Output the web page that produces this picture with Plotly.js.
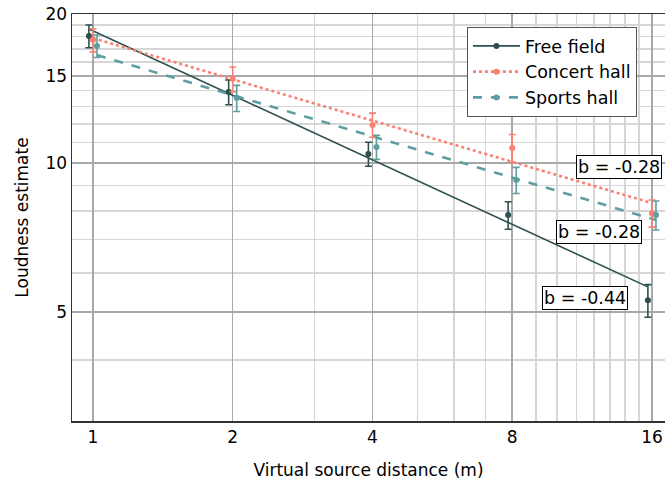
<!DOCTYPE html>
<html>
<head>
<meta charset="utf-8">
<script src="https://cdn.plot.ly/plotly-3.0.1.min.js"></script>
<style>html,body{margin:0;padding:0;background:#fff;}#chart{width:665px;height:483px;}</style>
</head>
<body>
<div id="chart"></div>
<script>
// ---- data ----
const distances = [1, 2, 4, 8, 16];
const seriesNames = ["Free field", "Concert hall", "Sports hall"];
const freeMean = [18.05, 13.91, 10.43, 7.85, 5.28];
const freeErr = [0.95, 0.80, 0.58, 0.50, 0.40];
const concertMean = [17.72, 14.78, 11.94, 10.72, 7.92];
const concertErr = [0.95, 0.85, 0.67, 0.70, 0.50];
const sportsMean = [17.24, 13.53, 10.77, 9.24, 7.85];
const sportsErr = [0.90, 0.82, 0.60, 0.56, 0.53];
const fitX = [1, 16];
const freeFit = [18.65, 5.62];
const concertFit = [17.88, 8.30];
const sportsFit = [16.52, 7.67];
const slopeLabels = ["b = -0.44", "b = -0.28", "b = -0.28"];
const xTicks = [1, 2, 4, 8, 16];
const yTicks = [5, 10, 15, 20];

// ---- styling ----
const colors = ["#2F4F4F", "#FA8072", "#5F9EA0"];
const dashes = ["solid", "dot", "dash"];
const widths = [1.6, 2.6, 2.6];
const dodge = [0.98, 1.0, 1.02];
const FONT = "DejaVu Sans";

const means = [freeMean, concertMean, sportsMean];
const errs = [freeErr, concertErr, sportsErr];
const fits = [freeFit, concertFit, sportsFit];

// interleave nulls so the points are not joined, but legend shows line style
const gap = arr => arr.flatMap((v, i) => i ? [null, v] : [v]);

const traces = [];
// fit lines
for (let s = 0; s < 3; s++) {
  traces.push({
    type: "scatter", mode: "lines",
    x: fitX.map(v => v * dodge[s]), y: fits[s],
    line: {color: colors[s], width: widths[s], dash: dashes[s]},
    showlegend: false, hoverinfo: "skip"
  });
}
// points with error bars
for (let s = 0; s < 3; s++) {
  traces.push({
    type: "scatter", mode: "lines+markers", name: seriesNames[s],
    x: gap(distances.map(v => v * dodge[s])), y: gap(means[s]),
    connectgaps: false,
    line: {color: colors[s], width: widths[s], dash: dashes[s]},
    marker: {color: colors[s], size: 6},
    error_y: {type: "data", array: gap(errs[s]), color: colors[s], thickness: 1.6, width: 3.5}
  });
}

function minorVals(lo, hi) { const r = []; for (let v = lo; v <= hi; v++) r.push(v); return r; }

const annPos = [[0.8651, 0.3034], [0.9216, 0.6253], [0.8895, 0.4644]];
const annotations = slopeLabels.map((t, i) => ({
  text: t, xref: "paper", yref: "paper", x: annPos[i][0], y: annPos[i][1],
  xanchor: "center", yanchor: "middle", showarrow: false,
  font: {family: FONT, size: 17.5, color: "#000"},
  bgcolor: "#fff", bordercolor: "#000", borderwidth: 1, borderpad: 1
}));

const layout = {
  width: 665, height: 483,
  margin: {l: 72, r: 0, t: 14, b: 62},
  paper_bgcolor: "#fff", plot_bgcolor: "#fff",
  font: {family: FONT, size: 17, color: "#000"},
  xaxis: {
    type: "log", range: [-0.0452, 1.2322],
    tickmode: "array", tickvals: xTicks, ticktext: xTicks.map(String),
    ticks: "", showgrid: true, gridcolor: "#a8a8a8", gridwidth: 1.5,
    minor: {tickmode: "array", tickvals: minorVals(1, 16), showgrid: true, gridcolor: "#d6d6d6", gridwidth: 1.5, ticks: ""},
    showline: true, linecolor: "#333", linewidth: 1.5, mirror: true,
    zeroline: false, tickfont: {family: FONT, size: 17},
    title: {text: "Virtual source distance (m)", font: {family: FONT, size: 17}, standoff: 18}
  },
  yaxis: {
    type: "log", range: [0.4788, 1.30103],
    tickmode: "array", tickvals: yTicks, ticktext: yTicks.map(String),
    ticks: "", showgrid: true, gridcolor: "#a8a8a8", gridwidth: 1.5,
    minor: {tickmode: "array", tickvals: minorVals(3, 20), showgrid: true, gridcolor: "#d6d6d6", gridwidth: 1.5, ticks: ""},
    showline: true, linecolor: "#333", linewidth: 1.5, mirror: true,
    zeroline: false, tickfont: {family: FONT, size: 17},
    title: {text: "Loudness estimate", font: {family: FONT, size: 17}, standoff: 12}
  },
  legend: {
    x: 0.666, y: 0.968, xanchor: "left", yanchor: "top",
    bgcolor: "#fff", bordercolor: "#555", borderwidth: 1,
    font: {family: FONT, size: 17.5, color: "#000"},
    itemwidth: 47, entrywidth: 175, entrywidthmode: "pixels",
    tracegroupgap: 0
  },
  annotations: annotations,
  showlegend: true
};

Plotly.newPlot("chart", traces, layout, {staticPlot: true, displayModeBar: false});
</script>
</body>
</html>
